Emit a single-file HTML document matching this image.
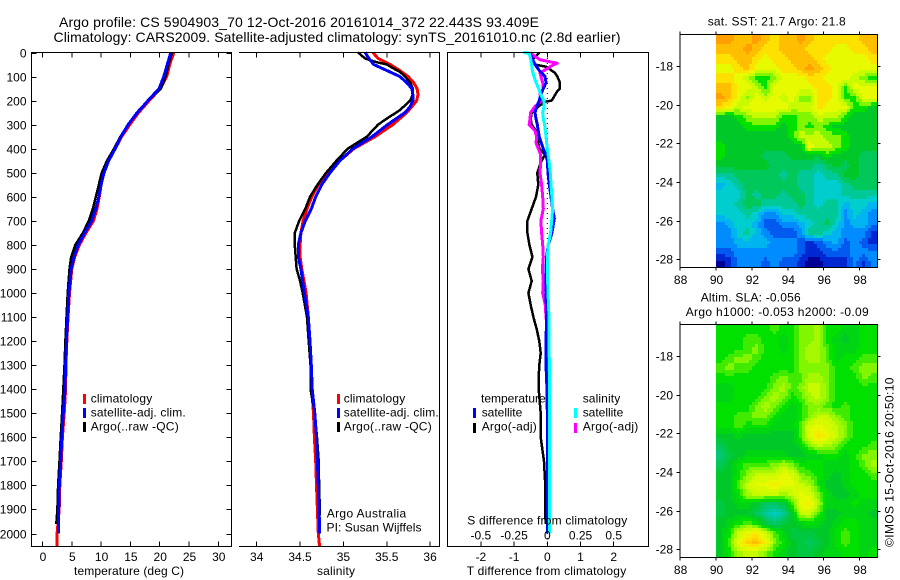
<!DOCTYPE html>
<html>
<head>
<meta charset="utf-8">
<title>Argo profile</title>
<style>
html,body{margin:0;padding:0;background:#fff}
#fig{display:block;width:900px;height:580px}
text{font-family:"Liberation Sans",sans-serif;font-size:12px;fill:#000}
.t{font-size:14px}
.frame{stroke:#000;stroke-width:1;fill:none;shape-rendering:crispEdges}
</style>
</head>
<body>
<svg id="fig" xmlns="http://www.w3.org/2000/svg" width="900" height="580" viewBox="0 0 900 580">
<rect width="900" height="580" fill="#fff"/>
<g id="heatmaps"></g>
<g id="series"></g>
<g id="axes"></g>

<text class="t" x="59" y="27" textLength="480">Argo profile: CS 5904903_70 12-Oct-2016 20161014_372 22.443S 93.409E</text>
<text class="t" x="53.5" y="42" textLength="567">Climatology: CARS2009. Satellite-adjusted climatology: synTS_20161010.nc (2.8d earlier)</text>

<path class="frame" d="M31.5 52.5H231.5V546.5H31.5Z"/>
<path class="frame" d="M239 52.5H439.5V546.5H239"/>
<path class="frame" d="M447.5 52.5H648.5V546.5H447.5Z"/>
<path class="frame" d="M680 34.5H877.5V267.5H680Z"/>
<path class="frame" d="M680 324.5H877.5V557.5H680Z"/>

<text x="74" y="575" textLength="110">temperature (deg C)</text>
<text x="317" y="575" textLength="38">salinity</text>
<text x="466.7" y="575" textLength="159.5">T difference from climatology</text>
<text x="467.3" y="524.5" textLength="160">S difference from climatology</text>

<g>
<rect x="83" y="394" width="3" height="10" fill="#f00"/>
<rect x="83" y="408" width="3" height="10" fill="#00f"/>
<rect x="83" y="422" width="3" height="10" fill="#000"/>
<text x="90.7" y="402.5" textLength="61.5">climatology</text>
<text x="90.7" y="416.5" textLength="95">satellite-adj. clim.</text>
<text x="90.7" y="430.5" textLength="88">Argo(..raw -QC)</text>
</g>
<g>
<rect x="337" y="394" width="3" height="10" fill="#f00"/>
<rect x="337" y="408" width="3" height="10" fill="#00f"/>
<rect x="337" y="422" width="3" height="10" fill="#000"/>
<text x="343.7" y="402.5" textLength="61.5">climatology</text>
<text x="343.7" y="416.5" textLength="95">satellite-adj. clim.</text>
<text x="343.7" y="430.5" textLength="88">Argo(..raw -QC)</text>
</g>
<text x="326.7" y="517.5" textLength="79.5">Argo Australia</text>
<text x="326.5" y="531.5" textLength="95">PI: Susan Wijffels</text>

<g>
<text x="481" y="402.5" textLength="64.7">temperature</text>
<text x="582.7" y="402.5" textLength="37.5">salinity</text>
<rect x="473" y="408" width="3" height="10" fill="#00f"/>
<rect x="473" y="423" width="3" height="10" fill="#000"/>
<rect x="574" y="408" width="3" height="10" fill="#0ff"/>
<rect x="574" y="423" width="3" height="10" fill="#f0f"/>
<text x="481.7" y="416.5" textLength="40.6">satellite</text>
<text x="481.7" y="430.5" textLength="55">Argo(-adj)</text>
<text x="582.7" y="416.5" textLength="40.6">satellite</text>
<text x="582.7" y="430.5" textLength="55.6">Argo(-adj)</text>
</g>

<text x="707.7" y="25.5" textLength="138">sat. SST: 21.7 Argo: 21.8</text>
<text x="700.7" y="301.5" textLength="100">Altim. SLA: -0.056</text>
<text x="685.7" y="316" textLength="183">Argo h1000: -0.053 h2000: -0.09</text>
<text transform="translate(893.5,547) rotate(-90)" x="0" y="0" textLength="169.5">©IMOS 15-Oct-2016 20:50:10</text>
</svg>

<script>
/* ---------- profile data ---------- */
const tempDepth = [0,50,100,150,200,250,300,350,400,450,500,550,600,650,700,750,800,850,900,1000,1100,1200,1300,1400,1500,1600,1700,1800,1900,2000];
const tempSat   = [21.9,21.3,20.7,19.9,18.0,16.2,14.6,13.4,12.4,11.3,10.5,10.0,9.6,9.1,8.4,7.2,6.1,5.4,4.9,4.5,4.3,4.1,3.95,3.84,3.55,3.3,3.1,2.87,2.76,2.7];
const climDepthT = [0,50,100,150,200,250,300,350,400,450,500,550,600,650,700,750,800,850,900,1000,1100,1200,1300,1400,1500,1600,1700,1800,1900,2000,2055];
const tempClim  = [22.4,21.7,21.2,20.1,18.2,16.4,14.9,13.5,12.4,11.2,10.5,10.0,9.7,9.3,8.7,7.4,6.3,5.5,5.0,4.6,4.35,4.15,4.0,3.95,3.7,3.4,3.2,2.95,2.85,2.5,2.5];
const argoDepthT = [0,50,100,150,200,250,300,350,400,450,500,550,600,650,700,750,800,850,900,1000,1100,1200,1300,1400,1500,1600,1700,1800,1900,1960];
const tempArgo  = [22.1,21.5,21.0,20.2,18.0,16.1,14.6,13.3,12.2,11.0,10.1,9.6,9.1,8.6,7.9,6.9,5.6,4.9,4.6,4.3,4.1,3.9,3.75,3.55,3.35,3.1,2.9,2.67,2.55,2.35];

const salSatDepth = [0,25,50,75,100,125,150,175,200,225,250,300,350,400,450,500,550,600,650,700,750,800,850,900,1000,1100,1200,1300,1400,1500,1600,1700,1800,1900,2000];
const salSat  = [35.25,35.295,35.35,35.50,35.65,35.73,35.79,35.80,35.80,35.77,35.71,35.51,35.33,35.11,34.96,34.845,34.75,34.68,34.63,34.56,34.51,34.48,34.48,34.51,34.55,34.595,34.615,34.63,34.64,34.67,34.69,34.70,34.71,34.72,34.725];
const salClimDepth = [0,25,50,75,100,125,150,175,200,225,250,300,350,400,450,500,550,600,650,700,750,800,850,900,950,1000,1100,1200,1300,1400,1500,1600,1700,1800,1900,2000,2055];
const salClim = [35.34,35.40,35.54,35.65,35.745,35.81,35.85,35.86,35.845,35.79,35.73,35.57,35.365,35.12,34.96,34.81,34.71,34.635,34.58,34.535,34.51,34.50,34.50,34.52,34.545,34.57,34.595,34.61,34.625,34.635,34.655,34.665,34.68,34.69,34.70,34.71,34.725];
const salArgoDepth = [0,25,40,50,65,80,100,125,150,175,200,240,275,300,350,400,450,500,550,600,650,700,750,800,850,900,950,1000,1100,1200,1300,1400,1500,1600,1700,1800,1925];
const salArgo = [35.17,35.25,35.38,35.50,35.57,35.65,35.71,35.77,35.80,35.80,35.77,35.65,35.50,35.40,35.27,35.05,34.92,34.80,34.70,34.615,34.56,34.49,34.44,34.44,34.45,34.46,34.50,34.53,34.58,34.60,34.62,34.62,34.67,34.695,34.715,34.72,34.73];

const dTSatDepth = [0,50,75,100,125,150,175,200,225,250,275,300,350,400,425,450,500,550,600,650,690,750,800,850,900,1000,1100,1200,1300,1400,1500,1700,1900,2000];
const dTSat = [-0.54,-0.37,-0.24,-0.07,-0.04,-0.12,-0.20,-0.24,-0.32,-0.37,-0.34,-0.30,-0.24,-0.12,-0.04,0,0.02,0.06,0.11,0.16,0.21,0.14,0.03,-0.02,-0.04,-0.04,-0.02,-0.04,-0.04,-0.01,0,0,0,0];
const dTArgoDepth = [0,25,40,50,60,70,85,100,125,150,165,185,200,205,225,250,275,300,325,350,400,425,450,475,500,550,600,650,700,750,800,850,900,950,1000,1050,1100,1150,1200,1250,1300,1350,1400,1500,1600,1700,1800,1900,1960];
const dTArgo = [-0.24,-0.42,-0.42,-0.37,-0.02,0.08,0.23,0.30,0.38,0.38,0.28,0.20,0.13,-0.07,-0.27,-0.47,-0.50,-0.47,-0.34,-0.30,-0.24,-0.07,-0.17,-0.24,-0.30,-0.27,-0.34,-0.47,-0.60,-0.60,-0.54,-0.45,-0.57,-0.47,-0.57,-0.50,-0.42,-0.32,-0.24,-0.20,-0.24,-0.26,-0.26,-0.20,-0.20,-0.10,-0.06,-0.06,-0.05];
const dSSatDepth = [0,3,25,50,75,100,125,150,175,200,225,250,275,300,350,400,450,500,550,600,650,690,750,800,850,900,1000,1100,1300,1500,1700,1900,2000];
const dSSat = [-0.18,-0.136,-0.126,-0.118,-0.113,-0.10,-0.085,-0.065,-0.05,-0.025,-0.025,-0.035,-0.03,-0.02,-0.01,0,0.0125,0.0226,0.028,0.035,0.04,0.035,0.025,0.0075,0,0,0.005,0.0125,0.015,0.015,0.015,0.015,0.015];
const dSArgoDepth = [0,15,30,45,55,70,85,100,125,150,175,200,225,250,275,300,325,350,375,400,425,450,500,550,600,650,700,750,800,850,900,950,1000,1050,1100,1150,1300,1500,1700,1900];
const dSArgo = [-0.126,-0.098,-0.055,0.075,0.033,-0.01,-0.055,-0.048,-0.035,-0.03,-0.055,-0.043,-0.093,-0.126,-0.13,-0.136,-0.093,-0.08,-0.085,-0.068,-0.05,-0.05,-0.055,-0.043,-0.035,-0.03,-0.048,-0.043,-0.035,-0.03,-0.037,-0.03,-0.035,-0.015,-0.01,0,0.01,0.01,0.01,0.01];

/* ---------- tick labels ---------- */
const depthTicks = [0,100,200,300,400,500,600,700,800,900,1000,1100,1200,1300,1400,1500,1600,1700,1800,1900,2000];
const tempTicks = [0,5,10,15,20,25,30];
const salTicks = ["34","34.5","35","35.5","36"];
const dTTicks = ["-2","-1","0","1","2"];
const dSTicks = ["-0.5","-0.25","0","0.25","0.5"];
const lonTicks = [88,90,92,94,96,98];
const latTicks = [-18,-20,-22,-24,-26,-28];

/* ---------- map data: colour level per 0.5 deg lon (columns) by ~0.5 deg lat (rows) ---------- */
const sstLevels = [
[15,15,14,14,15,14,13,14,14,15,14,13,13,13,13,13,14,14],
[14,14,14,15,14,13,13,14,14,14,13,13,13,12,12,13,13,14],
[13,13,14,14,13,12,13,13,14,14,14,13,12,12,12,12,12,13],
[12,12,13,14,12,12,12,13,13,14,15,14,13,12,12,12,12,12],
[13,13,12,11,9,9,10,12,12,12,13,13,12,12,12,11,10,9],
[14,14,12,12,11,9,12,12,12,12,12,13,13,12,9,12,12,12],
[15,14,12,10,12,11,12,11,12,10,10,13,13,12,9,9,12,12],
[13,12,11,12,12,12,12,12,11,11,11,13,12,12,12,9,9,8],
[8,8,9,10,11,11,11,9,9,10,10,11,11,11,9,8,8,8],
[8,8,8,9,9,9,9,8,9,10,9,10,9,8,8,8,8,8],
[8,8,8,8,8,8,8,8,9,11,11,11,10,10,9,8,8,8],
[9,8,8,8,8,8,8,8,8,8,12,11,11,10,9,8,8,8],
[9,8,8,8,8,7,7,7,8,8,8,8,9,8,8,8,7,7],
[8,8,8,8,8,8,7,7,7,7,7,6,7,8,7,8,7,7],
[6,6,7,7,7,7,7,6,7,6,6,5,6,6,8,8,7,7],
[4,5,6,7,7,7,7,7,7,6,6,5,5,5,6,7,7,7],
[5,5,5,7,6,7,7,6,7,7,6,5,5,5,6,6,6,6],
[5,5,6,7,7,6,6,6,6,7,6,5,6,6,4,5,5,4],
[5,5,5,6,5,3,3,5,5,6,6,6,6,6,3,5,4,3],
[3,4,5,5,4,2,2,3,3,4,5,6,7,5,3,4,4,3],
[3,3,5,6,4,3,2,2,2,3,6,6,5,4,3,3,3,1],
[3,3,4,4,4,4,3,3,3,2,1,2,3,4,2,3,2,1],
[2,2,3,3,3,3,3,3,3,2,1,1,2,2,2,3,3,3],
[0,1,3,3,3,2,3,2,2,1,0,0,1,1,1,3,1,3]
];
const slaLevels = [
[9,9,9,9,9,9,9.5,9,9,10,10,10.5,9,9,8.5,8.5,9,9],
[9,9,9,9.5,9.5,9,9,8.5,9,10,10,10.5,9,8.5,8,8.5,9,9],
[9,9,9,9.5,10,9,9,8.5,9,10,10.5,10.5,9.5,8.5,8.5,8.5,9,9],
[9,9.5,10,10,9.5,9,9,9,9,10,10.5,10.5,9.5,8.5,9,9,9.5,9.5],
[9.5,10,9.5,9.5,9,9,9,9,9,10,10,10,10,9,9,9.5,10,10],
[9,9,9,9,9,9,9.5,10,9.5,9.5,10.5,10.5,10,9,9,9,10,9.5],
[8.5,8.5,9,9,9,9,10,10.5,9.5,10,11,11,10,9,9,9,9,9],
[8.5,8.5,9,9,9,10,10.5,10,9,9.5,10.5,11,10,9,9,9,9,9],
[9,9,9,9,10,10.5,10,9,8.5,9,10,10,9.5,9,9.5,9,9,9],
[9,9,9.5,9.5,10,10,9,8.5,8.5,9,10,11,11,10,9.5,9,9,9],
[9,9,9.5,9,9,9,8.5,8.5,8.5,9.5,11.5,12,11.5,11,10,9,9,9],
[8,8,8.5,8,8,8,8,8,8,9.5,11.5,13,12,11,10,9,9,9],
[7,8,8,8,8,8,8,8,8,8.5,10,11,10.5,10,9,9,9,9.5],
[6.5,7.5,8,8.5,8.5,8.5,8.5,8.5,8,8,8.5,8.5,9,9,8.5,9,10,10],
[7,8,9,9.5,9.5,9.5,10,10.5,10,9,9,9,8.5,8.5,8.5,9,9.5,10.5],
[8,8,9,10,11,11,11,12,11.5,10,9.5,9,8.5,8,8.5,9,9,9.5],
[8,8,9.5,11,12,12,12.5,12,12,11,10.5,9,8,8,8.5,9,9,9],
[8,8,9,10.5,11,11,11,10.5,11,12,11.5,10,8.5,8,8,8.5,9,9],
[7.5,8,8.5,8.5,8,7,7,7.5,9.5,12,12.5,10.5,8.5,8.5,8.5,9,8.5,8.5],
[7.5,8,8,8,7,6,5,6,8,11,11,9.5,8,8,8.5,8.5,8.5,8],
[8,8.5,9,9.5,9,7.5,6.5,7.5,8,8.5,9,8.5,8,8.5,9,9,8.5,8.5],
[8,9,11,12,12.5,11,9.5,8.5,7.5,7.5,7.5,8,8,9,9.5,9,8.5,8.5],
[8,9.5,12,13.5,14,12.5,10,9,8,7.5,7,7.5,8,9,9.5,9,8.5,8.5],
[8,9,10.5,11,11,10,9,8.5,8,7.5,7.5,8,8.5,8.5,9,9,8.5,9]
];

/* ---------- axis functions ---------- */
const yDepth = d => 52.5 + d * 0.2405;
const xTemp = t => 42.5 + t * 5.86;
const xSal = s => 256.7 + (s - 34) * 86.7;
const xDT = v => 547.3 + v * 33.2;
const xDS = v => 547.3 + v * 132.8;
const xLon = l => 716 + (l - 90) * 17.95;
const yLat1 = l => 66 + (-18 - l) * 19.33;
const yLat2 = l => 356 + (-18 - l) * 19.33;

const NS = "http://www.w3.org/2000/svg";
const gSeries = document.getElementById("series");
const gAxes = document.getElementById("axes");
const gMaps = document.getElementById("heatmaps");

function mk(tag, parent, attrs) {
  const el = document.createElementNS(NS, tag);
  for (const k in attrs) el.setAttribute(k, attrs[k]);
  parent.appendChild(el);
  return el;
}

function linePoints(xs, depths, xf) {
  return xs.map((v, i) => xf(v).toFixed(1) + "," + yDepth(depths[i]).toFixed(1)).join(" ");
}
function drawLine(xs, depths, xf, color, width, label) {
  const el = mk("polyline", gSeries, {points: linePoints(xs, depths, xf), fill: "none", stroke: color, "stroke-width": width, "stroke-linejoin": "round", "shape-rendering": "crispEdges"});
  
  
}

/* temperature panel */
drawLine(tempClim, climDepthT, xTemp, "#f00", 3, "temperature-climatology-line");
drawLine(tempArgo, argoDepthT, xTemp, "#000", 2.5, "temperature-argo-line");
drawLine(tempSat, tempDepth, xTemp, "#00f", 3, "temperature-satellite-line");
/* salinity panel */
drawLine(salClim, salClimDepth, xSal, "#f00", 3, "salinity-climatology-line");
drawLine(salArgo, salArgoDepth, xSal, "#000", 2.5, "salinity-argo-line");
drawLine(salSat, salSatDepth, xSal, "#00f", 3, "salinity-satellite-line");
/* difference panel */
const zero = mk("line", gSeries, {x1: xDT(0), x2: xDT(0), y1: 53, y2: 546, stroke: "#000", "stroke-width": 1, "stroke-dasharray": "1 4"});


drawLine(dTArgo, dTArgoDepth, xDT, "#000", 2.5, "t-difference-argo-line");
drawLine(dSArgo, dSArgoDepth, xDS, "#f0f", 3, "s-difference-argo-line");
drawLine(dTSat, dTSatDepth, xDT, "#00f", 3, "t-difference-satellite-line");
drawLine(dSSat, dSSatDepth, xDS, "#0ff", 3, "s-difference-satellite-line");

/* ticks */
function tick(x1, y1, x2, y2) {
  const el = mk("line", gAxes, {x1, y1, x2, y2, stroke: "#000", "stroke-width": 1, "shape-rendering": "crispEdges"});
  
  
}
function label(txt, x, y, anchor) {
  const el = mk("text", gAxes, {x, y, "text-anchor": anchor});
  el.textContent = txt;
  
  
}

depthTicks.forEach(d => {
  const y = Math.round(yDepth(d)) + 0.5;
  label(d, 26.5, y + 4, "end");
  tick(31.5, y, 36.5, y);
  tick(231.5, y, 226.5, y);
});
tempTicks.forEach(t => {
  const x = xTemp(t);
  label(t, x + 0.5, 561, "middle");
  tick(x, 52.5, x, 57.5);
  tick(x, 546.5, x, 541.5);
});
salTicks.forEach(s => {
  const x = xSal(+s);
  label(s, x, 561, "middle");
  tick(x, 52.5, x, 57.5);
  tick(x, 546.5, x, 541.5);
});
dTTicks.forEach(v => {
  const x = xDT(+v);
  label(v, x, 561, "middle");
  tick(x, 52.5, x, 57.5);
  tick(x, 546.5, x, 541.5);
});
dSTicks.forEach(v => {
  label(v, xDS(+v), 539.5, "middle");
});
lonTicks.forEach(l => {
  const x = xLon(l);
  tick(x, 34.5, x, 31.5);
  tick(x, 267.5, x, 270.5);
  tick(x, 324.5, x, 321.5);
  tick(x, 557.5, x, 560.5);
  label(l, x + 0.5, 284, "middle");
  label(l, x + 0.5, 574, "middle");
});
latTicks.forEach(l => {
  const a = Math.round(yLat1(l)) + 0.5, b = Math.round(yLat2(l)) + 0.5;
  tick(680, a, 676.5, a);
  tick(877.5, a, 880.5, a);
  tick(680, b, 676.5, b);
  tick(877.5, b, 880.5, b);
  label(l, 673, a + 4, "end");
  label(l, 673, b + 4, "end");
});

/* colour scale: level -> rgb */
function levelColor(v) {
  const stops = [[0,0,150],[0,40,210],[0,90,240],[0,140,255],[0,180,240],[0,205,205],[0,200,150],[0,200,90],[0,200,40],[0,225,0],[130,245,0],[200,250,0],[232,250,0],[255,225,0],[255,190,0],[255,160,0]];
  const c = Math.max(0, Math.min(stops.length - 1, v));
  const i = Math.min(stops.length - 2, Math.floor(c)), f = c - i;
  const p = stops[i].map((s, k) => Math.round(s + (stops[i + 1][k] - s) * f));
  return "rgb(" + p.join(",") + ")";
}

/* bilinear lookup between cell centres, used to render both maps */
function sampleGrid(grid, fr, fc) {
  const nr = grid.length, nc = grid[0].length;
  const rr = Math.max(0, Math.min(nr - 1.001, fr)), cc = Math.max(0, Math.min(nc - 1.001, fc));
  const r0 = Math.floor(rr), c0 = Math.floor(cc), a = rr - r0, b = cc - c0;
  return (grid[r0][c0] * (1 - b) + grid[r0][c0 + 1] * b) * (1 - a) + (grid[r0 + 1][c0] * (1 - b) + grid[r0 + 1][c0 + 1] * b) * a;
}

const mapLeft = 716, mapRight = 877, sub = 3;

/* SST map: quantised colour bands */
const sstTop = 34.5, sstBottom = 267;
for (let r = 0; r < sstLevels.length * sub; r++) {
  for (let c = 0; c < sstLevels[0].length * sub; c++) {
    const nR = sstLevels.length * sub, nC = sstLevels[0].length * sub;
    const x0 = Math.round(mapLeft + (mapRight - mapLeft) * c / nC);
    const x1 = Math.round(mapLeft + (mapRight - mapLeft) * (c + 1) / nC);
    const y0 = Math.round(sstTop + (sstBottom - sstTop) * r / nR);
    const y1 = Math.round(sstTop + (sstBottom - sstTop) * (r + 1) / nR);
    const v = Math.round(sampleGrid(sstLevels, (r + 0.5) / sub - 0.5, (c + 0.5) / sub - 0.5));
    const el = mk("rect", gMaps, {x: x0, y: y0, width: x1 - x0, height: y1 - y0, fill: levelColor(v), "shape-rendering": "crispEdges"});
    
    
  }
}

/* SLA map: half-level colour bands */
const slaTop = 324.5, slaBottom = 557;
for (let r = 0; r < slaLevels.length * sub; r++) {
  for (let c = 0; c < slaLevels[0].length * sub; c++) {
    const nR = slaLevels.length * sub, nC = slaLevels[0].length * sub;
    const x0 = Math.round(mapLeft + (mapRight - mapLeft) * c / nC);
    const x1 = Math.round(mapLeft + (mapRight - mapLeft) * (c + 1) / nC);
    const y0 = Math.round(slaTop + (slaBottom - slaTop) * r / nR);
    const y1 = Math.round(slaTop + (slaBottom - slaTop) * (r + 1) / nR);
    const v = Math.round(2 * sampleGrid(slaLevels, (r + 0.5) / sub - 0.5, (c + 0.5) / sub - 0.5)) / 2;
    const el = mk("rect", gMaps, {x: x0, y: y0, width: x1 - x0, height: y1 - y0, fill: levelColor(v), "shape-rendering": "crispEdges"});
    
    
  }
}
</script>
</body>
</html>
